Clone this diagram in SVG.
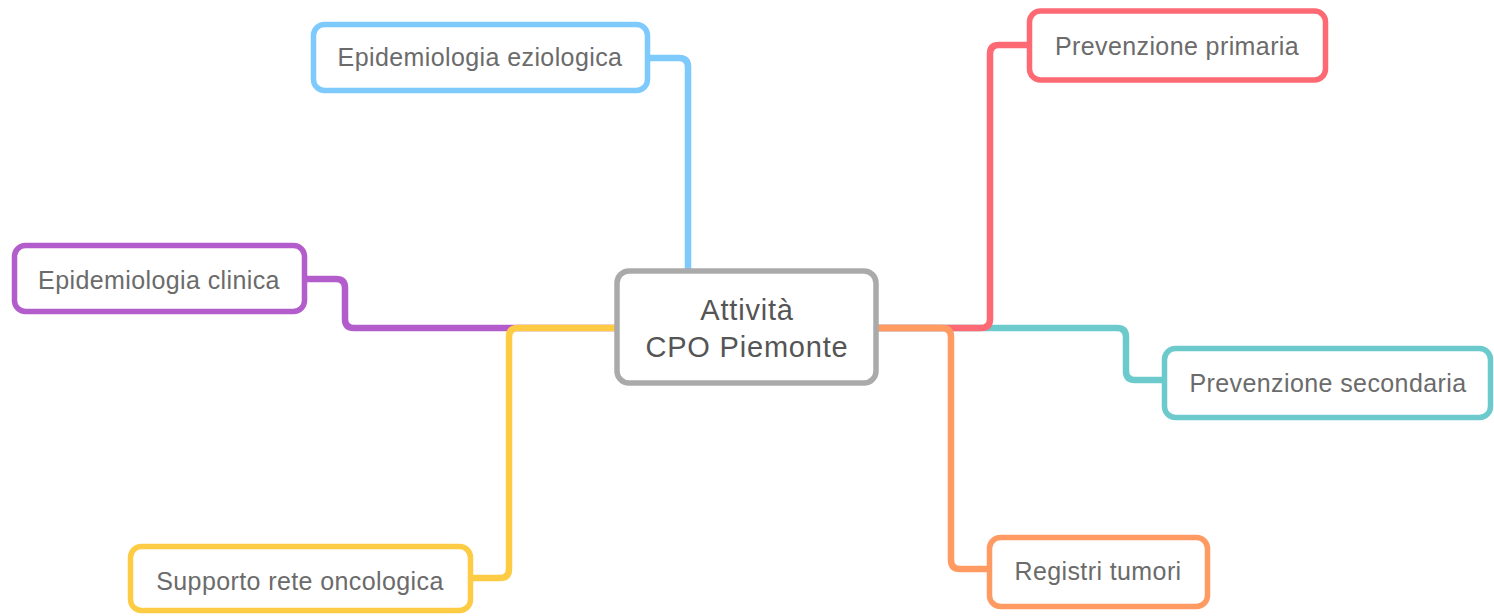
<svg xmlns="http://www.w3.org/2000/svg" width="1494" height="616" viewBox="0 0 1494 616">
<style>
.bg{fill:#ffffff}
.c{fill:none;stroke-width:6.5;stroke-linecap:round;stroke-linejoin:round}
.n{fill:#ffffff;stroke-width:5.5}
.t{font-family:"Liberation Sans",Arial,Helvetica,sans-serif;font-size:25px;fill:#6b6b6b;text-anchor:middle;letter-spacing:0.4px}
.tc{font-family:"Liberation Sans",Arial,Helvetica,sans-serif;font-size:29px;fill:#555555;text-anchor:middle;letter-spacing:0.8px}
</style>
<rect class="bg" x="0" y="0" width="1494" height="616"/>
<g id="connectors">
  <path class="c" stroke="#7ecafc" d="M648,58 H679 Q688,58 688,67 V271"/>
  <path class="c" stroke="#b35ccc" d="M305,279 H336 Q345,279 345,288 V319 Q345,328 354,328 H617"/>
  <path class="c" stroke="#fdcc44" d="M617,328 H518 Q509,328 509,337 V569 Q509,578 500,578 H471"/>
  <path class="c" stroke="#6dcacc" d="M876,328 H1117 Q1126,328 1126,337 V371 Q1126,380 1135,380 H1164"/>
  <path class="c" stroke="#fd6a74" d="M876,328 H981 Q990,328 990,319 V54 Q990,45 999,45 H1029"/>
  <path class="c" stroke="#fe9a62" d="M876,328 H942 Q951,328 951,337 V560 Q951,569 960,569 H989"/>
</g>
<g id="center">
  <rect class="n" x="617" y="271" width="259" height="112" rx="12" stroke="#aaaaaa" stroke-width="4.5"/>
  <text class="tc" x="747" y="320">Attività</text>
  <text class="tc" x="747" y="357">CPO Piemonte</text>
</g>
<g id="epidemiologia-eziologica">
  <rect class="n" x="313.5" y="24.5" width="334" height="66" rx="11" stroke="#7ecafc"/>
  <text class="t" x="480" y="66">Epidemiologia eziologica</text>
</g>
<g id="epidemiologia-clinica">
  <rect class="n" x="14.5" y="245.5" width="290" height="66" rx="11" stroke="#b35ccc"/>
  <text class="t" x="159" y="289">Epidemiologia clinica</text>
</g>
<g id="supporto-rete-oncologica">
  <rect class="n" x="130.5" y="546.5" width="340" height="64" rx="11" stroke="#fdcc44"/>
  <text class="t" x="300" y="590">Supporto rete oncologica</text>
</g>
<g id="prevenzione-primaria">
  <rect class="n" x="1029.5" y="11" width="296" height="69" rx="11" stroke="#fd6a74"/>
  <text class="t" x="1177" y="55">Prevenzione primaria</text>
</g>
<g id="prevenzione-secondaria">
  <rect class="n" x="1164.5" y="348.5" width="326" height="69" rx="11" stroke="#6dcacc"/>
  <text class="t" x="1328" y="392">Prevenzione secondaria</text>
</g>
<g id="registri-tumori">
  <rect class="n" x="989.5" y="537.5" width="218" height="69" rx="11" stroke="#fe9a62"/>
  <text class="t" x="1098" y="580">Registri tumori</text>
</g>
</svg>
